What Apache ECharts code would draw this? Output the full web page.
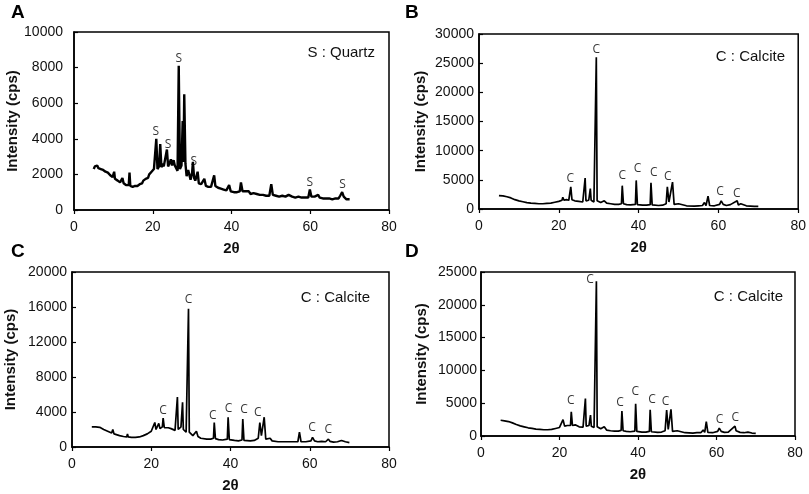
<!DOCTYPE html>
<html>
<head>
<meta charset="utf-8">
<script src="https://cdn.jsdelivr.net/npm/echarts@6/dist/echarts.min.js"></script>
<style>
  html, body { margin: 0; padding: 0; background: #fff; }
  #chart-container { width: 809px; height: 494px; }
</style>
</head>
<body>
<div id="chart-container"></div>
<script>
// XRD patterns, [2theta, intensity cps]
var patternA = [
  [5,2300],[5.3,2450],[5.6,2350],[5.9,2500],[6.2,2350],[6.5,2450],[6.8,2300],[7.1,2400],[7.4,2250],[7.7,2300],
  [8,2150],[8.3,2250],[8.6,2100],[8.9,2050],[9.2,1950],[9.5,2000],[9.8,1850],[10.1,1900],[10.2,2150],[10.4,1750],
  [10.8,1800],[11.1,1650],[11.4,1700],[11.7,1550],[12,1600],[12.3,1800],[12.6,1500],[12.9,1550],[13.2,1400],[13.5,1450],
  [13.9,1400],[14.1,2100],[14.3,1350],[14.6,1450],[14.9,1300],[15.2,1400],[15.5,1350],[15.8,1450],[16.1,1350],[16.4,1450],
  [16.7,1450],[17,1550],[17.3,1500],[17.6,1650],[17.9,1600],[18.2,1750],[18.5,1850],[18.8,1800],[19.1,2000],[19.4,1950],
  [19.7,2150],[20,2100],[20.3,2300],[20.6,2250],[20.9,4000],[21.2,2300],[21.6,2450],[21.9,3700],[22.2,2400],[22.5,2600],
  [22.8,2450],[23.2,2550],[23.6,3400],[23.9,2450],[24.3,2650],[24.6,2850],[24.9,2500],[25.3,2800],[25.6,2500],[26.0,2450],
  [26.3,2200],[26.6,8100],[26.9,2300],[27.3,2500],[27.6,5000],[27.8,2700],[28.0,6500],[28.3,2600],[28.6,1900],[29.0,2250],
  [29.3,2300],[29.6,1700],[30.0,2100],[30.2,2700],[30.5,1800],[30.8,1650],[31.1,1750],[31.4,2150],[31.7,1500],[32.0,1600],
  [32.3,1450],[32.7,1550],[33.1,1750],[33.5,1350],[33.8,1450],[34.1,1300],[34.5,1400],[34.8,1300],[35.2,1400],[35.6,1950],
  [35.9,1350],[36.2,1400],[36.6,1250],[36.9,1350],[37.3,1200],[37.6,1300],[38,1150],[38.4,1250],[38.7,1100],[39.0,1200],
  [39.4,1400],[39.8,1050],[40.2,1150],[40.6,1000],[41,1100],[41.4,1000],[41.8,1100],[42.1,1050],[42.4,1550],[42.8,1050],
  [43.2,1000],[43.6,1050],[44,950],[44.4,1050],[44.8,900],[45.2,1000],[45.6,950],[46,1050],[46.4,900],[46.8,950],
  [47.2,850],[47.6,950],[48,850],[48.4,900],[48.8,800],[49.2,900],[49.6,800],[50.1,1450],[50.5,850],[50.9,900],
  [51.3,800],[51.7,850],[52.1,750],[52.5,850],[52.9,800],[53.3,850],[53.7,750],[54.1,800],[54.5,850],[55,900],
  [55.4,750],[55.8,800],[56.2,700],[56.6,800],[57,750],[57.4,800],[57.8,700],[58.2,800],[58.6,700],[59,750],
  [59.5,700],[59.9,1150],[60.3,750],[60.7,700],[61.1,750],[61.5,700],[62,850],[62.4,700],[62.8,750],[63.2,650],
  [63.6,750],[64,650],[64.4,700],[64.8,650],[65.2,700],[65.6,600],[66,700],[66.4,650],[66.8,700],[67.2,650],
  [67.6,800],[68.1,1000],[68.5,750],[68.9,700],[69.2,600],[69.6,650],[70,600]
];

var patternB = [
  [5,2300],[6,2250],[7,2100],[8,1900],[9,1600],[10,1400],[11,1250],[12,1100],[13,1000],[14,950],
  [15,900],[16,900],[17,950],[18,1000],[19,1150],[20,1300],[20.8,1500],[21.0,2000],[21.3,1500],[21.9,1600],
  [22.2,1900],[22.5,1500],[22.8,1600],[23.0,3800],[23.3,1600],[24,1400],[25,1300],[26,1200],[26.4,1400],[26.6,5300],
  [26.8,1400],[27.5,1500],[27.7,1600],[27.9,3500],[28.1,1500],[28.8,1200],[29.2,1400],[29.4,26000],[29.6,1400],[30.5,1100],
  [31.4,1400],[32,1000],[33,900],[34,800],[35,800],[35.7,900],[35.9,4000],[36.2,900],[37,750],[38,700],
  [39.2,800],[39.4,4900],[39.7,750],[41,650],[42,650],[42.9,750],[43.1,4500],[43.4,700],[45,600],[46,650],
  [46.9,900],[47.2,3800],[47.6,1200],[48.0,1200],[48.5,4600],[48.9,800],[50,900],[50.5,600],[52,550],[54,500],
  [55,550],[56,600],[56.5,1100],[56.9,600],[57.4,2200],[57.8,600],[59,550],[60.3,800],[60.7,1400],[61.2,800],
  [62,600],[63,750],[63.5,600],[64.7,1400],[65.0,700],[65.6,900],[66,600],[67,550],[68,500],[69,450],
  [70,450]
];

var patternC = [
  [5,2300],[5.5,2400],[6,2300],[6.5,2350],[7,2250],[7.5,2200],[8,2000],[8.5,1950],[9,1800],[9.5,1700],
  [10,1600],[10.3,2000],[10.6,1500],[11,1450],[12,1300],[13,1200],[13.8,1150],[14,1500],[14.2,1150],[15,1100],
  [16,1100],[17,1150],[18,1300],[19,1500],[20,1800],[20.5,2000],[20.9,2800],[21.2,2000],[21.6,2200],[21.9,2700],
  [22.2,2100],[22.6,2200],[22.8,2300],[23.0,3300],[23.3,2200],[23.8,2300],[24.3,2200],[25,2100],[25.5,2000],[26,1900],
  [26.4,2000],[26.6,5700],[26.8,2000],[27.5,2300],[27.7,2300],[27.9,5100],[28.1,2000],[28.8,1700],[29.2,1800],[29.4,15800],
  [29.6,1700],[30.5,1300],[31.4,1800],[31.8,1200],[32.5,1000],[33,1100],[34,900],[35,900],[35.7,1000],[35.9,2800],
  [36.2,950],[37,850],[38,800],[39.2,900],[39.4,3400],[39.7,850],[41,750],[42,700],[42.9,800],[43.1,3200],
  [43.4,750],[45,700],[46,750],[47.0,1000],[47.4,2800],[47.8,1300],[48.1,1100],[48.5,3400],[48.9,900],[50,1000],
  [50.5,700],[52,600],[54,600],[56,600],[56.5,700],[57.0,600],[57.4,1700],[57.8,600],[59,600],[60.3,700],
  [60.7,1100],[61.2,700],[62,600],[63,650],[64,600],[64.7,900],[65.1,650],[65.6,700],[66,550],[67,600],
  [68,750],[68.5,650],[69,600],[70,500]
];

var patternD = [
  [5,2400],[5.5,2350],[6,2300],[7,2200],[8,2000],[9,1750],[10,1550],[11,1400],[12,1250],[13,1150],
  [14,1050],[15,1000],[16,950],[17,950],[18,1000],[19,1150],[20,1300],[20.5,1400],[20.9,2500],[21.3,1500],
  [22,1600],[22.4,1500],[22.8,1600],[23.0,3700],[23.3,1600],[24,1700],[24.5,1500],[25,1400],[26,1350],[26.4,1500],
  [26.6,5700],[26.8,1500],[27.5,1600],[27.7,1600],[27.9,3200],[28.1,1500],[28.8,1300],[29.2,1400],[29.4,23600],[29.6,1400],
  [30.5,1100],[31.4,1400],[32,900],[33,800],[34,750],[35,750],[35.7,850],[35.9,3800],[36.2,800],[37,700],
  [38,650],[39.2,750],[39.4,4900],[39.7,700],[41,600],[42,600],[42.9,700],[43.1,4000],[43.4,650],[45,550],
  [46,600],[46.9,800],[47.3,3950],[47.7,1000],[48.0,900],[48.4,4050],[48.8,700],[50,800],[50.5,550],[52,500],
  [54,450],[55,500],[56,500],[56.6,900],[57.0,550],[57.4,2200],[57.8,550],[59,500],[60.3,700],[60.7,1200],
  [61.2,700],[62,550],[63,600],[63.5,500],[64.7,1500],[65.0,800],[65.5,900],[66,550],[67,500],[68,600],
  [68.5,450],[69,450],[70,400]
];

// peak marker label positions [2theta, intensity]
var marksA = [[20.8,4400],[23.9,3700],[26.6,8500],[30.4,2700],[59.9,1560],[68.2,1450]];
var marksB = [[22.9,5300],[29.4,27300],[35.9,5800],[39.7,7000],[43.8,6200],[47.3,5500],[60.4,3000],[64.6,2600]];
var marksC = [[23.0,4150],[29.4,16850],[35.5,3550],[39.5,4400],[43.4,4250],[46.9,3950],[60.6,2250],[64.7,1950]];
var marksD = [[22.9,5450],[27.8,23900],[35.4,5100],[39.3,6700],[43.6,5500],[47.0,5250],[60.8,2450],[64.8,2750]];

var panelLetters = ["A", "B", "C", "D"];
var phaseNames = ["S : Quartz", "C : Calcite", "C : Calcite", "C : Calcite"];
var markLetters = ["S", "C", "C", "C"];
var yMax = [10000, 30000, 20000, 25000];
var yStep = [2000, 5000, 4000, 5000];
var xMin = 0, xMax = 80, xStep = 20;

(function xrdChart() {
  var dom = document.getElementById("chart-container");
  var myChart = echarts.init(dom, null, { renderer: "canvas" });
  var font = "'Liberation Sans', Arial, sans-serif";

  var patterns = [patternA, patternB, patternC, patternD];
  var marks = [marksA, marksB, marksC, marksD];

  // plot boxes in px: left, top, width, height
  var boxes = [
    [74, 32, 315, 178],
    [479, 34, 320, 175],
    [72, 272, 317, 178],
    [481, 272, 314, 164],
  ];
  var nameGaps = [45, 51, 54, 52];
  var labelMargins = [11, 5, 5, 4];
  var letterPos = [[11, 3], [405, 3], [11, 242], [405, 242]];
  var phasePos = [[375, 53], [785, 57], [370, 298], [783, 297]];

  var grids = [], xAxes = [], yAxes = [], series = [], graphics = [];

  boxes.forEach(function (b, i) {
    grids.push({
      left: b[0], top: b[1], width: b[2], height: b[3],
      show: true, borderColor: "#000", borderWidth: 1.5,
      containLabel: false,
    });
    xAxes.push({
      gridIndex: i, type: "value",
      min: xMin, max: xMax, interval: xStep,
      name: "2θ", nameLocation: "middle", nameGap: 31,
      nameTextStyle: { fontFamily: font, fontWeight: "bold", fontSize: 15, color: "#111" },
      axisLine: { show: true, lineStyle: { color: "#000", width: 1.5 } },
      axisTick: { show: true, inside: false, length: 4, lineStyle: { color: "#000", width: 1.2 } },
      axisLabel: { margin: 10, fontFamily: font, fontSize: 14, color: "#111" },
      splitLine: { show: false },
    });
    yAxes.push({
      gridIndex: i, type: "value",
      min: 0, max: yMax[i], interval: yStep[i],
      name: "Intensity (cps)", nameLocation: "middle", nameGap: nameGaps[i],
      nameTextStyle: { fontFamily: font, fontWeight: "bold", fontSize: 15, color: "#111" },
      axisLine: { show: true, lineStyle: { color: "#000", width: 1.5 } },
      axisTick: { show: true, inside: true, length: 4, lineStyle: { color: "#000", width: 1.2 } },
      axisLabel: {
        margin: labelMargins[i], fontFamily: font, fontSize: 14, color: "#111",
        formatter: function (v) { return String(v); },
      },
      splitLine: { show: false },
    });
    series.push({
      type: "line",
      xAxisIndex: i, yAxisIndex: i,
      data: patterns[i],
      showSymbol: false,
      lineStyle: { color: "#000", width: i === 0 ? 2.4 : 1.7 },
      silent: true,
    });
    series.push({
      type: "scatter",
      xAxisIndex: i, yAxisIndex: i,
      data: marks[i],
      symbolSize: 1,
      itemStyle: { color: "rgba(0,0,0,0)" },
      label: {
        show: true, position: "inside",
        formatter: markLetters[i],
        fontFamily: "'Open Sans', 'DejaVu Sans', sans-serif",
        fontSize: 12, color: "#000",
      },
      silent: true,
    });
    graphics.push({
      type: "text",
      left: letterPos[i][0], top: letterPos[i][1],
      style: { text: panelLetters[i], font: "bold 19px " + font, fill: "#000" },
    });
    graphics.push({
      type: "text",
      x: phasePos[i][0], y: phasePos[i][1],
      style: {
        text: phaseNames[i], font: "15px " + font, fill: "#111",
        textAlign: "right", textVerticalAlign: "middle",
      },
    });
  });

  var option = {
    backgroundColor: "#fff",
    animation: false,
    grid: grids,
    xAxis: xAxes,
    yAxis: yAxes,
    series: series,
    graphic: graphics,
  };

  option && myChart.setOption(option);
  window.addEventListener("resize", myChart.resize);
})();
</script>
</body>
</html>
